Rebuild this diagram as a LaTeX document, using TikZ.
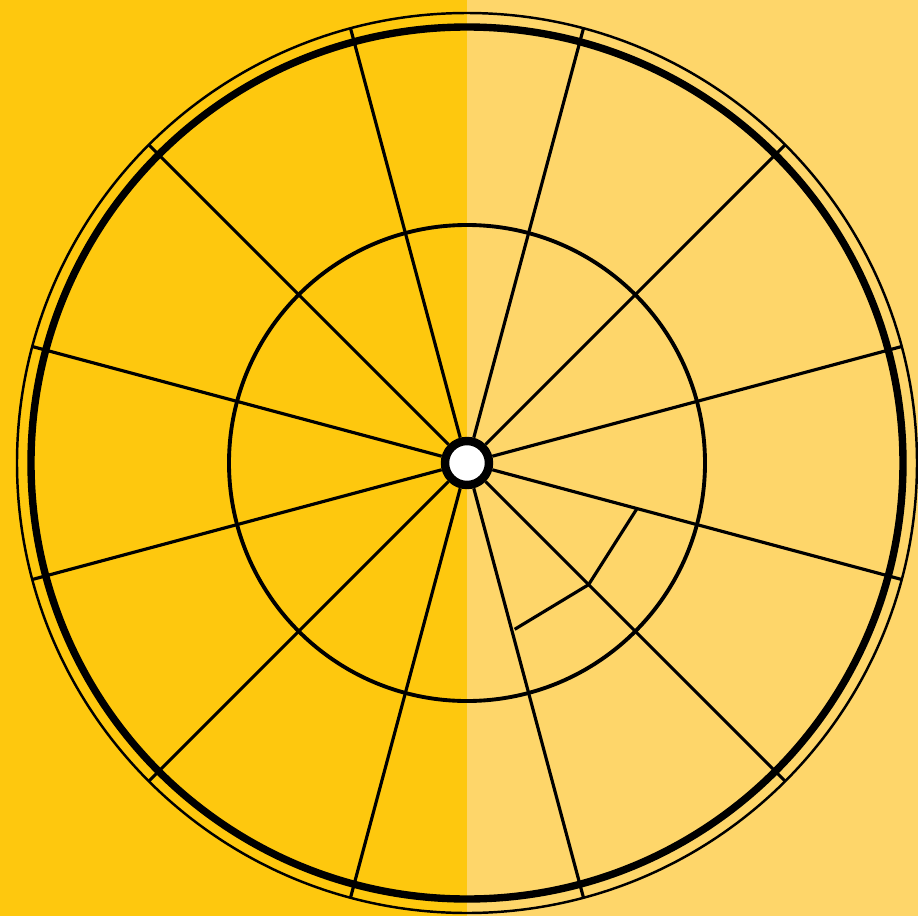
\documentclass[tikz,border=0pt]{standalone}
\usepackage{tikz}

\definecolor{wheelLeft}{RGB}{254,200,14}
\definecolor{wheelRight}{RGB}{254,214,106}

\begin{document}
\begin{tikzpicture}[spoke/.style={line width=1.8pt},rim/.style={line width=4.2pt},ring/.style={line width=2.2pt}]
\useasboundingbox (-9.34,-9.06) rectangle (9.02,9.26);
\fill[wheelLeft] (-9.34,-9.06) rectangle (0,9.26);
\fill[wheelRight] (0,-9.06) rectangle (9.02,9.26);
\node[circle,draw,line width=4.8pt,fill=white,minimum size=0.88cm,inner sep=0pt] (hub) at (0,0) {};
% spokes run out to the outer thin rim
\foreach \a in {15,45,...,345}
  \draw[spoke] (hub) -- (\a:9.0);
\draw[line width=1.4pt] (0,0) circle (9.0);
\draw[rim] (0,0) circle (8.72);
\draw[ring] (0,0) circle (4.76);
% small broken segment in the lower right
\coordinate (seg_a) at (-74:3.46);
\coordinate (seg_b) at (-45:3.44);
\coordinate (seg_c) at (-15:3.52);
\draw[spoke] (seg_a) -- (seg_b) -- (seg_c);
\end{tikzpicture}
\end{document}
